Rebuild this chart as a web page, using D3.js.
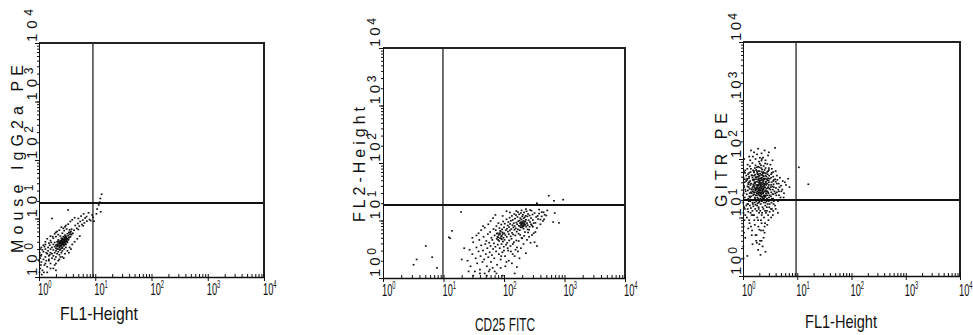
<!DOCTYPE html>
<meta charset="utf-8">
<style>

body {
  margin: 0;
  background: #fff;
}

svg {
  display: block;
}

.ytick, .ytitle, .xtick, .xtitle {
  font-family: "Liberation Sans", Arial, sans-serif;
  fill: #111;
}

.axis path, .axis line {
  stroke: #111;
}

</style>
<body>
<script src="https://d3js.org/d3.v7.min.js"></script>
<script>

var width = 973;

var height = 335;

// axis titles of the three plots
var xTitles = ["FL1-Height", "CD25 FITC", "FL1-Height"];

var yTitles = ["Mouse IgG2a PE", "FL2-Height", "GITR PE"];

// decades and their tick labels (10^0 .. 10^4)
var decades = [1, 10, 100, 1000, 10000];

var tickExponents = ["0", "1", "2", "3", "4"];

// quadrant gates, channel values
var gateX = [9.1, 9.8, 9.5];

var gateY = [18.4, 18.6, 19.9];

// events: [x channel, y channel]
var isotypeDots = [
  [1.8,2.9],[1.9,3.3],[2.0,3.1],[2.1,3.6],[2.2,3.4],[2.3,3.9],[2.4,3.5],[2.5,4.1],[2.6,3.8],[2.7,4.4],
  [2.8,4.0],[2.9,4.6],[3.0,4.3],[3.1,4.8],[3.2,4.5],[3.3,5.1],[3.4,4.7],[3.5,5.4],
  [1.9,2.6],[2.0,2.8],[2.1,3.0],[2.2,2.7],[2.3,3.2],[2.4,3.0],[2.5,3.4],[2.6,3.2],[2.7,3.7],[2.8,3.5],
  [2.9,3.9],[3.0,3.6],[3.1,4.1],[3.2,3.9],[3.3,4.3],
  [1.7,3.2],[1.8,3.6],[1.9,3.9],[2.0,3.5],[2.1,4.0],[2.2,4.3],[2.3,3.7],[2.4,4.2],[2.5,4.6],[2.6,4.3],
  [2.7,4.9],[2.8,4.6],[2.9,5.2],[3.0,5.0],[3.2,5.5],[3.4,5.8],
  [2.2,3.0],[2.4,3.3],[2.6,3.6],[2.8,3.9],[3.0,4.1],[2.3,3.5],[2.5,3.8],[2.7,4.1],[2.9,4.3],[2.1,3.3],
  [2.35,2.9],[2.55,3.1],[2.75,3.4],[2.95,3.7],[3.15,4.0],[3.35,4.4],[3.6,4.9],[3.8,5.3],
  [3.6,4.9],[3.7,5.4],[3.7,6.0],[3.8,6.6],[3.6,5.8],[3.5,6.4],
  [1.5,1.9],[1.5,2.3],[1.6,2.6],[1.6,3.0],[1.7,2.1],[1.7,2.5],
  [1.05,1.4],[1.1,1.8],[1.1,2.4],[1.15,1.3],[1.2,2.0],[1.2,2.7],[1.25,1.6],[1.3,2.2],[1.3,3.0],[1.35,1.9],
  [1.4,2.5],[1.4,1.5],[1.45,2.8],[1.5,2.0],[1.55,2.4],[1.1,3.2],[1.2,3.5],[1.3,3.6],[1.05,2.1],[1.6,1.7],
  [1.8,1.4],[2.0,1.3],[1.9,2.0],[2.0,2.2],[1.8,2.3],[2.1,2.5],[2.3,2.4],[2.2,1.9],[2.5,2.6],[2.6,2.8],
  [2.4,2.2],[2.8,3.0],[3.0,3.2],
  [1.6,4.2],[1.8,4.6],[2.0,4.9],[2.2,5.3],[2.4,5.0],[2.6,5.6],[2.8,6.2],[3.1,6.6],[1.7,10.0],[3.3,14],
  [4.0,5.6],[4.2,6.3],[4.7,6.8],[5.0,6.5],[5.2,7.4],[5.8,7.9],[6.1,7.5],[6.4,8.4],
  [7.1,9.0],[7.9,9.6],[8.3,9.2],[4.4,7.6],[4.9,8.2],[5.4,8.9],[6.0,9.4],[6.6,10.2],
  [9.1,10.5],[8.8,11.5],[9.5,9.0],
  [5.6,11],[6.2,12],[7.0,10.8],[7.6,12.5],[5.0,10],
  [10.8,14.5],[11.5,17],[12.3,22],[13.0,26],[12.0,19],[10.5,12],[12.5,13],
  [1.3,4.0],[1.4,4.5],[1.5,3.8],[1.6,5.0],[1.9,5.5],[2.1,6.0],[2.3,6.3],[2.5,7.1],[2.7,6.8],[3.0,7.6],
  [3.3,8.0],[3.6,8.9],[3.9,9.5],[4.3,10.3],[2.0,5.8],[1.75,4.9],[2.9,7.2],
  [2.0,1.7],[2.3,2.0],[2.6,2.2],[2.9,2.5],[3.2,2.8],[3.5,3.2],[3.9,3.6],[4.3,4.0],[4.8,4.5],[5.3,5.0],
  [3.4,2.6],[2.75,2.1],[3.7,3.0],
  [2.2,3.8],[2.35,4.0],[2.45,3.7],[2.55,4.3],[2.65,4.0],[2.8,4.3],[2.9,4.1],[3.05,4.5],[2.15,3.5],[2.5,3.9],
  [2.7,3.9],[2.35,3.4],[2.6,4.5],[2.85,4.8],[3.1,4.4],[2.4,3.8],[2.2,4.1],[2.75,3.6],[3.0,4.7],[2.55,3.6],
  [1.02,1.2],[1.03,2.6],[1.06,3.0],[1.08,1.6],[1.0,1.9],[1.12,1.1],
  [1.15,2.9],[1.25,3.3],[1.35,2.6],[1.45,3.2],[1.55,3.5],[1.65,3.9],[1.22,1.2],[1.4,1.2],[1.6,1.4],[1.9,1.6],
  [1.08,2.3],[1.3,1.7]
];

var cd25Dots = [
  [3.2,1.7],[3.6,2.1],[5.1,3.6],[6.5,2.3],[7.8,1.5],[12.3,5.1],[13.8,6.6],[19.5,14.1],[12.9,4.9],
  [25,2.0],[27,3.1],[28,1.6],[30,2.6],[31,4.2],[33,1.3],[34,2.2],[35,3.4],[36,1.8],[38,2.9],
  [39,4.6],[40,1.4],[41,2.4],[42,3.7],[44,1.9],[45,3.0],[46,5.2],[47,2.1],[48,1.2],[49,3.9],
  [50,2.6],[51,4.4],[52,1.6],[53,3.3],[54,5.8],[55,2.3],[56,1.3],[57,4.1],[58,2.8],[59,6.3],
  [60,3.6],[61,1.9],[62,5.0],[63,2.5],[64,4.6],[65,1.5],[66,3.2],
  [67,7.1],[68,4.0],[69,2.2],[70,5.5],[72,3.5],[73,6.8],[74,2.9],[75,8.0],[76,4.8],[77,1.7],
  [78,6.0],[79,3.8],[80,5.1],[81,9.0],[82,2.6],[83,4.4],[84,7.4],[85,3.3],[86,5.8],[87,6.6],
  [88,2.1],[89,4.9],[90,8.5],[91,3.9],[92,5.4],[93,7.0],[94,2.8],[95,6.2],[96,4.3],[97,9.6],
  [98,5.0],[99,3.5],[100,7.6],[101,6.0],[102,4.6],[103,8.8],[104,2.4],[105,5.6],[107,6.8],[108,3.8],
  [110,10.5],[111,5.2],[112,7.2],[113,4.1],[115,8.2],[116,6.4],[117,3.0],[118,9.4],[120,5.8],[121,7.7],
  [122,4.5],[124,11.2],[125,6.7],[126,8.7],[128,3.6],[129,5.3],[130,9.9],[132,7.1],[133,4.8],[135,12.0],
  [136,6.1],[138,8.3],[139,2.6],[140,10.2],[142,5.7],[143,7.6],[145,9.0],[146,4.2],[148,13.0],[149,6.9],
  [150,8.0],[152,10.8],[154,5.5],[156,7.3],[158,12.4],[160,9.2],[162,6.4],[164,3.4],[165,8.6],[167,11.5],
  [169,7.0],[170,14.0],[172,9.7],[174,5.9],[176,8.1],[178,12.8],[180,10.0],[182,6.8],[184,9.0],[186,11.0],
  [188,7.6],[190,13.5],[192,8.6],[194,10.4],[196,5.0],[198,9.4],[200,11.8],[202,8.0],[205,12.6],[208,9.8],
  [210,7.2],[212,10.9],[215,13.8],[218,8.8],[220,11.4],[222,6.3],[225,9.6],[228,12.1],[230,10.3],[233,7.8],
  [236,14.5],[240,9.0],[243,11.8],[246,8.3],[250,13.0],[255,10.1],[260,6.9],[265,12.2],[270,9.4],[275,4.1],
  [280,11.0],[285,14.8],[290,8.2],[296,12.7],[300,10.2],[310,6.0],[320,13.5],[330,9.1],[340,11.5],[350,7.4],
  [365,10.6],[380,13.2],[400,8.6],[420,11.8],[440,9.8],[470,12.6],
  [195,8.4],[200,8.9],[205,8.2],[210,9.1],[215,8.6],[198,7.6],[207,7.9],[212,8.1],[190,9.3],[220,9.6],
  [185,8.0],[225,8.4],
  [78,5.2],[82,5.6],[86,4.9],[90,5.3],[84,6.0],[80,4.6],[88,6.4],[76,5.9],[92,4.7],[95,5.8],
  [550,27],[950,23],[670,22],[810,9.1],[690,13.5],[350,20],[650,9.4],
  [420,14],[460,10.5],[500,12.2],[380,15.5],
  [31,1.1],[40,1.2],[52,1.1],[70,1.3],[88,1.5],[95,1.1],[163,1.55],
  [35,5.5],[42,6.8],[48,7.5],[55,8.6],[60,9.8],[66,11.0],[72,12.5],[58,1.4],[75,1.2],[105,1.6],
  [120,2.0],[135,1.8],[150,2.4],[170,2.9],[190,3.3],[210,3.9],[240,4.6],[260,5.2],[290,5.6],[320,4.2],
  [350,3.6],[150,1.2],[180,2.2],[230,2.7],[110,1.9],[130,2.9],[160,4.5],[200,4.9],[250,6.2],[300,7.8],
  [330,6.3],[270,15.2],[230,15.8],[195,15.0],[160,14.6],[125,13.8],[95,12.0],[110,14.5],[45,8.0],[38,6.0],
  [30,5.0],[22,3.3],[20,2.1],[26,1.3],[90,2.4],[100,3.0],[115,3.3],[140,3.9],[155,3.1],[175,4.4],
  [185,5.6],[215,5.4],[245,7.0],[265,7.8],[280,8.6],[310,9.0],[360,12.0],[400,10.4],[450,13.9],[520,15.0]
];

var gitrDots = [
  [1.02,12],[1.05,15],[1.01,18],[1.08,22],[1.03,26],[1.1,30],[1.04,35],[1.07,40],[1.02,48],[1.09,58],
  [1.06,9],[1.03,7],[1.11,20],[1.0,24],[1.05,33],[1.08,45],[1.01,3.2],[1.04,5.5],[1.02,2.0],
  [1.18,10],[1.22,14],[1.2,17],[1.25,21],[1.17,25],[1.23,29],[1.21,34],[1.26,39],[1.19,46],[1.24,55],
  [1.2,68],[1.22,80],
  [1.32,8],[1.38,12],[1.34,16],[1.36,19],[1.31,23],[1.39,27],[1.33,31],[1.37,36],[1.35,42],[1.3,50],
  [1.38,60],[1.34,75],[1.36,95],
  [1.47,6],[1.53,11],[1.49,13],[1.52,17],[1.46,20],[1.54,24],[1.5,28],[1.48,32],[1.55,37],[1.51,44],
  [1.47,52],[1.53,64],[1.49,85],[1.52,110],
  [1.62,9],[1.68,14],[1.64,18],[1.67,21],[1.61,25],[1.69,29],[1.63,33],[1.66,38],[1.6,45],[1.68,54],[1.65,70],
  [1.77,5],[1.83,10],[1.79,13],[1.82,16],[1.76,19],[1.84,22],[1.8,26],[1.78,30],[1.85,35],[1.81,41],
  [1.77,48],[1.83,58],[1.79,72],[1.82,120],
  [1.92,7],[1.98,12],[1.94,15],[1.97,18],[1.91,21],[1.99,24],[1.93,27],[1.96,31],[1.9,36],[1.98,43],
  [1.95,51],[1.93,62],[1.97,90],
  [2.06,4],[2.14,9],[2.08,13],[2.12,17],[2.05,20],[2.15,23],[2.1,26],[2.07,29],[2.13,34],[2.09,39],
  [2.11,47],[2.06,56],[2.14,78],
  [2.21,11],[2.29,15],[2.23,19],[2.27,22],[2.2,25],[2.3,28],[2.24,32],[2.28,37],[2.22,44],[2.26,53],
  [2.25,66],[2.23,100],
  [2.36,6],[2.44,10],[2.38,14],[2.42,18],[2.35,21],[2.45,24],[2.4,27],[2.37,30],[2.43,35],[2.39,42],
  [2.41,50],[2.36,60],
  [2.55,8],[2.65,12],[2.58,16],[2.62,20],[2.54,23],[2.66,26],[2.6,29],[2.57,33],[2.63,39],[2.59,46],
  [2.61,57],[2.56,84],
  [2.75,13],[2.85,17],[2.78,21],[2.82,24],[2.74,28],[2.86,32],[2.8,38],[2.77,45],[2.83,55],
  [2.95,9],[3.05,15],[2.98,19],[3.02,22],[2.94,26],[3.06,31],[3.0,36],[2.97,43],[3.03,52],[2.99,70],
  [3.25,14],[3.35,18],[3.28,23],[3.32,27],[3.24,33],[3.36,40],[3.3,48],
  [3.55,11],[3.65,17],[3.58,21],[3.62,25],[3.54,30],[3.66,37],[3.6,60],
  [3.9,16],[4.1,20],[3.95,26],[4.05,32],[4.0,41],
  [4.4,19],[4.6,24],[4.45,30],[4.55,38],
  [4.9,22],[5.1,28],[5.0,35],
  [5.7,26],[5.9,40],[6.8,46],[7.2,33],[10.7,72],[16,37],[3.9,155],[2.2,125],[1.6,130],[2.9,115],
  [1.2,2.2],[1.5,3.5],[1.9,2.8],[2.2,4.0],[1.7,5.0],[2.0,6.2],[2.3,3.2],[1.4,7.0],[2.5,5.5],[2.8,7.5],
  [1.1,4.5],[2.6,2.6],[2.1,2.3],[1.8,3.7],
  [1.85,28],[1.9,31],[1.95,29],[2.0,33],[2.05,30],[2.1,32],[2.15,27],[1.8,33],[2.2,31],[1.88,35],
  [2.02,27],[1.7,30],[2.3,34],[1.75,36],[2.12,37],[1.92,25],[2.25,29],[1.65,32],[2.4,31],[2.0,38],
  [1.6,27],[1.95,40],[2.08,23],[1.72,24],[2.35,26],
  [1.15,16],[1.28,19],[1.42,23],[1.58,27],[1.73,31],[1.87,36],[2.03,41],[2.18,46],[2.33,52],[2.48,58],
  [1.12,28],[1.27,33],[1.41,38],[1.57,43],[1.71,49],[1.86,55],[2.01,62],[2.17,70],[2.32,40],[2.47,45],
  [1.14,42],[1.29,47],[1.44,53],[1.59,59],[1.74,65],[1.89,74],[2.04,83],[2.19,94],[2.34,106],[2.49,37],
  [2.7,31],[2.9,27],[3.1,24],[3.4,21],[3.7,19],[4.2,27],[4.7,33],[5.3,30],[5.6,22],[6.2,36],
  [2.7,50],[2.9,62],[3.1,46],[3.4,58],[3.7,44],[4.2,52],[4.8,48],[5.4,42],[3.2,80],[2.6,70],
  [1.1,11],[1.25,12.5],[1.4,14.5],[1.55,15.5],[1.7,16.5],[1.85,17.5],[2.0,18.5],[2.15,19.5],[2.3,20.5],[2.45,21.5],
  [2.6,22.5],[2.75,15],[2.9,11],[3.1,12.5],[3.3,10],[3.6,13],[4.0,14],[4.4,12],[1.3,9],[1.6,11],
  [1.9,9],[2.2,8],[2.5,7],[1.45,5],[1.75,4],[2.0,3.5],[1.25,6.5],[2.4,4.5],[1.65,7.5],[2.15,6],
  [1.05,100],[1.3,110],[1.7,100],[2.05,105],[2.6,95],[1.4,140],[2.5,140],[3.0,130],[1.9,150],[3.5,95],
  [1.8,24],[1.95,26],[2.1,24],[2.25,26],[1.85,32],[2.0,29],[2.15,35],[2.3,30],[1.75,27],[2.05,36],
  [1.6,35],[1.7,40],[1.9,44],[2.2,39],[2.35,43],[1.55,30],[1.45,26],[2.45,33],[2.55,37],[2.65,41],
  [1.35,22],[1.5,18],[1.65,22],[1.9,20],[2.1,21],[2.35,23],[2.6,18],[2.8,20],[1.25,37],[1.15,52],
  [2.8,60],[3.0,65],[3.3,55],[3.6,50],[3.9,45],[4.2,38],[3.5,34],[3.8,28],[4.1,24],[3.2,30],
  [2.7,36],[3.0,40],[3.3,36],[3.6,42],[2.9,47],[3.2,20],[3.5,25],[2.5,65],[2.2,60],[1.9,55],
  [1.6,62],[1.3,58],[1.1,64],[1.4,68],[1.7,78],[2.0,72],[2.4,76],[2.8,82],[3.4,68],[4.0,62],
  [1.08,14],[1.16,20],[1.24,17],[1.33,26],[1.43,30],[1.53,34],[1.63,40],[1.73,45],[1.83,50],[1.93,47],
  [2.03,52],[2.13,43],[2.23,48],[2.33,57],[2.43,38],[2.53,28],[2.63,24],[2.73,19],[2.83,43],[2.93,33],
  [1.2,44],[1.3,40],[1.5,48],[1.6,52],[1.8,62],[2.0,46],[2.2,54],[2.4,46],[2.6,52],[2.8,28],
  [3.7,33],[4.3,44],[4.6,28],[3.1,17],[3.4,14],[2.55,13],[2.25,12],[1.95,14],[1.45,11],[1.05,60]
];

var dotSets = [isotypeDots, cd25Dots, gitrDots];

// where each plot sits on the page
var layout = [
  {left: 39, right: 264, top: 43, bottom: 277, yTitleX: 23, yTitleY: 253, yTitleLen: 188,
   yTickX: 37, yTickLen: 33, xTickY: 295, xTitleX: 99, xTitleY: 320, xTitleLen: 78},
  {left: 383, right: 625, top: 48, bottom: 278, yTitleX: 365, yTitleY: 222, yTitleLen: 115,
   yTickX: 380, yTickLen: 29, xTickY: 296, xTitleX: 505, xTitleY: 331, xTitleLen: 60},
  {left: 743, right: 960, top: 42, bottom: 276, yTitleX: 727, yTitleY: 207, yTitleLen: 94,
   yTickX: 741, yTickLen: 28, xTickY: 296, xTitleX: 841, xTitleY: 328, xTitleLen: 72}
];

var svg = d3.select("body").append("svg")
    .attr("width", width)
    .attr("height", height);

svg.append("rect")
    .attr("width", width)
    .attr("height", height)
    .attr("fill", "#fff");

layout.forEach(function(L, i) {

  var x = d3.scaleLog()
      .domain([1, 10000])
      .range([L.left, L.right]);

  var y = d3.scaleLog()
      .domain([1, 10000])
      .range([L.bottom, L.top]);

  var g = svg.append("g");

  // events
  g.selectAll("rect.dot")
    .data(dotSets[i])
    .join("rect")
      .attr("class", "dot")
      .attr("x", d => x(d[0]) - 0.9)
      .attr("y", d => y(d[1]) - 0.8)
      .attr("width", 1.8)
      .attr("height", 1.6)
      .attr("fill", "#111");

  // quadrant gate
  g.append("line")
      .attr("x1", x(gateX[i])).attr("x2", x(gateX[i]))
      .attr("y1", L.top).attr("y2", L.bottom)
      .attr("stroke", "#111")
      .attr("stroke-width", 1.2);

  g.append("line")
      .attr("x1", L.left).attr("x2", L.right)
      .attr("y1", y(gateY[i])).attr("y2", y(gateY[i]))
      .attr("stroke", "#111")
      .attr("stroke-width", 1.8);

  // frame: top and right
  g.append("path")
      .attr("d", `M${L.left},${L.top}H${L.right}V${L.bottom}`)
      .attr("fill", "none")
      .attr("stroke", "#222")
      .attr("stroke-width", 2);

  // x axis: minor ticks inside, decades across
  g.append("g")
      .attr("class", "axis")
      .attr("transform", `translate(0,${L.bottom})`)
      .call(d3.axisBottom(x).ticks(10).tickSize(-3).tickSizeOuter(0).tickFormat(""))
      .call(a => a.select(".domain").attr("stroke-width", 1.5));

  g.append("g")
      .attr("class", "axis")
      .attr("transform", `translate(0,${L.bottom})`)
      .call(d3.axisBottom(x).tickValues(decades).tickSize(4).tickSizeOuter(0).tickFormat(""))
      .call(a => a.select(".domain").remove());

  // y axis: minor ticks outside
  g.append("g")
      .attr("class", "axis")
      .attr("transform", `translate(${L.left},0)`)
      .call(d3.axisLeft(y).ticks(10).tickSize(2).tickSizeOuter(0).tickFormat(""));

  g.append("g")
      .attr("class", "axis")
      .attr("transform", `translate(${L.left},0)`)
      .call(d3.axisLeft(y).tickValues(decades).tickSize(4).tickSizeOuter(0).tickFormat(""))
      .call(a => a.select(".domain").remove());

  // x tick labels, squeezed sideways like the original print
  g.selectAll("text.xtick")
    .data(decades)
    .join("text")
      .attr("class", "xtick")
      .attr("transform", d => `translate(${x(d) - 1},${L.xTickY}) scale(0.58,1)`)
      .attr("font-size", 16)
      .each(function(d, j) {
        var t = d3.select(this);
        t.append("tspan").text("10");
        t.append("tspan").attr("dy", -7).attr("font-size", 10).text(tickExponents[j]);
      });

  // y tick labels, rotated
  g.selectAll("text.ytick")
    .data(decades)
    .join("text")
      .attr("class", "ytick")
      .attr("transform", d => `translate(${L.yTickX},${y(d) - 1}) rotate(-90)`)
      .attr("font-size", 15)
      .attr("textLength", L.yTickLen)
      .attr("lengthAdjust", "spacing")
      .each(function(d, j) {
        var t = d3.select(this);
        t.append("tspan").text("10");
        t.append("tspan").attr("dy", -4).attr("font-size", 12).text(tickExponents[j]);
      });

  // axis titles
  g.append("text")
      .attr("class", "xtitle")
      .attr("x", L.xTitleX)
      .attr("y", L.xTitleY)
      .attr("text-anchor", "middle")
      .attr("font-size", 19)
      .attr("textLength", L.xTitleLen)
      .attr("lengthAdjust", "spacingAndGlyphs")
      .text(xTitles[i]);

  g.append("text")
      .attr("class", "ytitle")
      .attr("transform", `translate(${L.yTitleX},${L.yTitleY}) rotate(-90)`)
      .attr("font-size", 16)
      .attr("textLength", L.yTitleLen)
      .attr("lengthAdjust", "spacing")
      .text(yTitles[i]);
});

</script>
